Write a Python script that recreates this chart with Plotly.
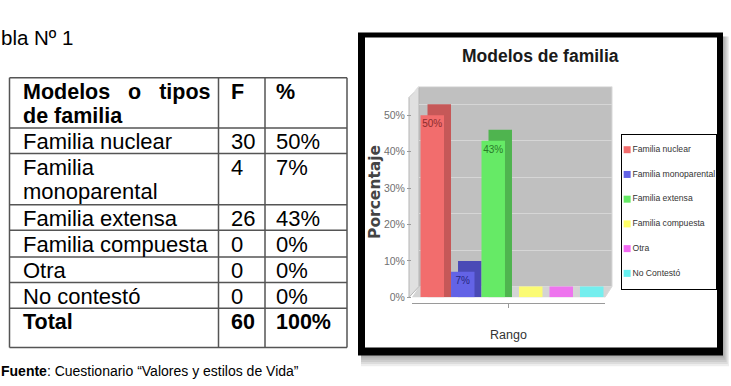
import plotly.graph_objects as go

# ---------------- data ----------------
categories = ["Familia nuclear", "Familia monoparental", "Familia extensa",
              "Familia compuesta", "Otra", "No Contestó"]
table_labels = ["Familia nuclear", "Familia<br>monoparental", "Familia extensa",
                "Familia compuesta", "Otra", "No contestó"]
freq = [30, 4, 26, 0, 0, 0]
pct = [50, 7, 43, 0, 0, 0]
freq_total = 60
pct_total = 100
x_category = ["Rango"]
y_ticks = [0, 10, 20, 30, 40, 50]
y_tick_text = ["0%", "10%", "20%", "30%", "40%", "50%"]
grid_ticks = [10, 20, 30, 40, 50]
table_header = ["Modelos\u00a0\u00a0\u00a0o\u00a0\u00a0\u00a0tipos<br>de familia", "F", "%"]
total_label = "Total"
chart_title = "Modelos de familia"
y_title = "Porcentaje"
table_title = "bla Nº 1"
source_bold = "Fuente"
source_rest = ": Cuestionario “Valores y estilos de Vida”"

# ---------------- style ----------------
front_colors = ["#f26d6d", "#6363e6", "#66ea66", "#ffff66", "#f26af2", "#66f0f0"]
depth_colors = ["#c65858", "#4a4ab6", "#4fb44f", "#fbfb74", "#ee74ee", "#74eeee"]
label_colors = ["#8c2c2c", "#26267e", "#2a7a2a", "#000", "#000", "#000"]

W, H = 731, 386
SANS = "Liberation Sans, Arial, Helvetica, sans-serif"


def X(p):
    return p / W


def Y(p):
    return 1 - p / H


FLOOR, TOP = 302, 88
PX_PER = 3.7
FL, FR = 412, 605
DX, DY = 7, 11
y_max_front = (FLOOR - TOP) / PX_PER
dyu = DY / PX_PER

fig = go.Figure()

# depth (side/top faces) bars on the back axes
for i, v in enumerate(pct):
    fig.add_trace(go.Bar(
        x=x_category, y=[v + dyu], base=[-dyu], xaxis="x", yaxis="y",
        marker=dict(color=depth_colors[i], line=dict(width=0)),
        showlegend=False, hoverinfo="skip"))

# front faces
for i, v in enumerate(pct):
    fig.add_trace(go.Bar(
        x=x_category, y=[v], name=categories[i], xaxis="x2", yaxis="y2",
        marker=dict(color=front_colors[i], line=dict(width=0)),
        text=[f"{v}%" if v else ""], textposition="inside",
        insidetextanchor="end", textangle=0, constraintext="none",
        insidetextfont=dict(family=SANS, size=10, color=label_colors[i]),
        showlegend=False))

# legend drawn as a small panel
fig.add_trace(go.Scatter(
    x=[0] * len(categories), y=categories, xaxis="x3", yaxis="y3",
    mode="markers+text", text=categories, textposition="middle right",
    marker=dict(symbol="square", size=7, color=front_colors),
    textfont=dict(family=SANS, size=8.6, color="#333333"),
    cliponaxis=False, showlegend=False, hoverinfo="skip"))

shapes = []


def rect(x0, y0, x1, y1, fill, layer="below"):
    shapes.append(dict(type="rect", xref="paper", yref="paper",
                       x0=X(x0), x1=X(x1), y0=Y(y1), y1=Y(y0),
                       fillcolor=fill, line=dict(width=0), layer=layer))


def poly(points, fill, line_color=None, width=0, layer="below", closed=True):
    path = "M " + " L ".join(f"{X(a):.5f},{Y(b):.5f}" for a, b in points)
    if closed:
        path += " Z"
    shapes.append(dict(type="path", xref="paper", yref="paper", path=path,
                       fillcolor=fill,
                       line=dict(width=width, color=line_color or "rgba(0,0,0,0)"),
                       layer=layer))


def hline(x0, x1, y, color, width):
    shapes.append(dict(type="line", xref="paper", yref="paper",
                       x0=X(x0), x1=X(x1), y0=Y(y), y1=Y(y),
                       line=dict(color=color, width=width)))


def vline(x, y0, y1, color, width):
    shapes.append(dict(type="line", xref="paper", yref="paper",
                       x0=X(x), x1=X(x), y0=Y(y0), y1=Y(y1),
                       line=dict(color=color, width=width)))


# picture frame with shadow
for k in range(1, 6):
    rect(361, 37, 723 + k * 1.2, 361 + k * 2.2, "rgba(0,0,0,0.07)")
rect(358, 33, 723, 361, "#000000")
rect(365, 38, 717, 353, "#ffffff")

# 3D wall, floor and side wall
rect(FL + DX, TOP, FR + DX, FLOOR - DY, "#c0c0c0")
poly([(FL, FLOOR), (FR, FLOOR), (FR + DX, FLOOR - DY), (FL + DX, FLOOR - DY)], "#d4d4d4")
poly([(FL - 3, FLOOR), (FL + DX, FLOOR - DY), (FL + DX, TOP), (FL - 3, TOP + DY)],
     "#e0e0e0", "#b4b4b4", 1)
poly([(FL - 3, TOP + DY), (FL + DX, TOP), (FR + DX, TOP)], "rgba(0,0,0,0)",
     "#e6e6e6", 1, closed=False)
poly([(FR + DX, TOP), (FR + DX, FLOOR - DY), (FR, FLOOR)], "rgba(0,0,0,0)",
     "#d8d8d8", 1, closed=False)

# table grid
row_edges = [79, 130, 156, 208, 234, 261, 287, 313, 353]
col_edges = [9.5, 218.5, 265, 347]
for yv in row_edges:
    hline(col_edges[0], col_edges[-1], yv, "#555555", 1.5)
for xv in col_edges:
    vline(xv, row_edges[0], row_edges[-1], "#555555", 1.5)

annotations = []


def txt(x, y, s, size, family=SANS, bold=False, anchor="left", color="#000000", angle=0):
    annotations.append(dict(
        x=X(x), y=Y(y), xref="paper", yref="paper",
        text=f"<b>{s}</b>" if bold else s, showarrow=False,
        xanchor=anchor, yanchor="middle", textangle=angle,
        font=dict(family=family, size=size, color=color)))


text_x = [21, 229, 274]
LINE = 24.5
# header
for j, h in enumerate(table_header):
    for k, part in enumerate(h.split("<br>")):
        txt(text_x[j], row_edges[0] + 14 + k * LINE, part, 21.5, bold=True)
# body rows
for i, lab in enumerate(table_labels):
    top = row_edges[i + 1]
    for k, part in enumerate(lab.split("<br>")):
        txt(text_x[0], top + 14 + k * LINE, part, 22)
    txt(text_x[1], top + 14, str(freq[i]), 22)
    txt(text_x[2], top + 14, f"{pct[i]}%", 22)
# total row
top = row_edges[7]
txt(text_x[0], top + 14, total_label, 21.5, bold=True)
txt(text_x[1], top + 14, str(freq_total), 21.5, bold=True)
txt(text_x[2], top + 14, f"{pct_total}%", 21.5, bold=True)

txt(-1, 38.5, table_title, 20.5)
txt(-1, 377, f"<b>{source_bold}</b>{source_rest}", 14)

# chart texts
txt(540, 57, chart_title, 17.5, bold=True, anchor="center", color="#1a1a1a")
txt(375, 195, y_title, 15.5, family="DejaVu Sans, sans-serif", bold=True,
    anchor="center", color="#444444", angle=-90)

fig.update_layout(
    width=W, height=H, margin=dict(l=0, r=0, t=0, b=0),
    paper_bgcolor="#ffffff", plot_bgcolor="rgba(0,0,0,0)",
    barmode="group", bargap=0.052, bargroupgap=0.23,
    showlegend=False, shapes=shapes, annotations=annotations,
    xaxis=dict(domain=[X(FL + DX), X(FR + DX)], range=[-0.5, 0.5],
               anchor="y", showgrid=False, showticklabels=False, ticks="",
               showline=False, zeroline=False, fixedrange=True),
    yaxis=dict(domain=[Y(FLOOR), Y(TOP)], range=[-dyu, y_max_front - dyu],
               anchor="x", tickvals=grid_ticks, showgrid=True,
               gridcolor="#d6d6d6", gridwidth=1, showticklabels=False,
               ticks="", showline=False, zeroline=False, fixedrange=True),
    xaxis2=dict(domain=[X(FL), X(FR)], range=[-0.5, 0.5], anchor="free",
                position=Y(308), showgrid=False, showline=True,
                linecolor="#9a9a9a", linewidth=1, ticks="outside", ticklen=4,
                tickcolor="#9a9a9a", ticklabelstandoff=16,
                tickfont=dict(family=SANS, size=12.5, color="#333333"),
                zeroline=False, fixedrange=True),
    yaxis2=dict(domain=[Y(FLOOR), Y(TOP)], range=[0, y_max_front], anchor="x2",
                tickmode="array", tickvals=y_ticks, ticktext=y_tick_text,
                showgrid=False, zeroline=False,
                showline=False, ticks="outside", ticklen=4, tickcolor="#9a9a9a",
                tickfont=dict(family=SANS, size=10.5, color="#707070"),
                fixedrange=True),
    xaxis3=dict(domain=[X(622), X(716)], range=[-0.55, 9.5], anchor="y3",
                showgrid=False, zeroline=False, showticklabels=False, ticks="",
                showline=True, mirror=True, linecolor="#000000", linewidth=1,
                fixedrange=True),
    yaxis3=dict(domain=[Y(294), Y(137)], type="category",
                categoryorder="array", categoryarray=categories,
                range=[5.65, -0.6], anchor="x3", showgrid=False, zeroline=False,
                showticklabels=False, ticks="", showline=True, mirror=True,
                linecolor="#000000", linewidth=1, fixedrange=True),
)

fig.write_html("out.html", config={"displayModeBar": False})
